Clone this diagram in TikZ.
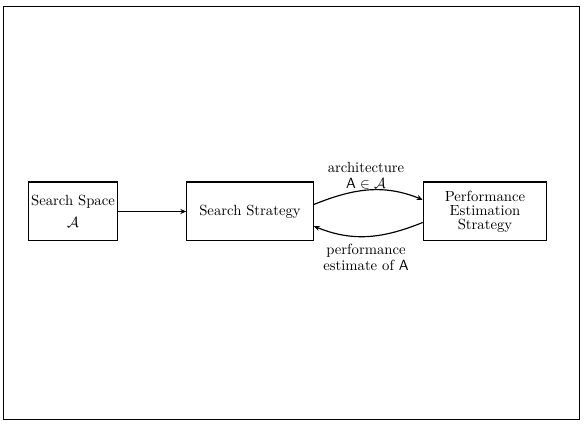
\documentclass[tikz,border=0pt]{standalone}
\usepackage{amsmath,amssymb}
\usetikzlibrary{arrows.meta}

\tikzset{
  stage/.style={draw, line width=0.8pt, minimum height=40pt, align=center, inner sep=2pt},
  flow/.style={line width=0.8pt, -{Stealth[length=4pt,width=3.5pt]}},
  note/.style={align=center, inner sep=0pt}
}

\begin{document}
\begin{tikzpicture}[x=0.68pt,y=0.68pt]

  \useasboundingbox (0,0) rectangle (584,427);
    \draw[line width=0.6pt] (3,8) rectangle (579,421);

  \node[stage, minimum width=61pt] (space) at (73,215.5) {Search Space\\[3pt] $\mathcal{A}$};
  \node[stage, minimum width=86pt] (strategy) at (250,215.5) {Search Strategy};
  \node[stage, minimum width=84pt] (estim) at (485,215.5) {Performance\\[-2.5pt] Estimation\\[-2.5pt] Strategy};

    \draw[flow] (space) -- (strategy);
    \draw[flow] (strategy.east) ++(0,7) to[out=22,in=158] ([yshift=8]estim.west);
    \draw[flow] (estim.west) ++(0,-11) to[out=-158,in=-22] ([yshift=-10]strategy.east);

  \node[note] (archlbl) at (366,251) {architecture\\[-1pt] $\mathsf{A}\in\mathcal{A}$};
  \node[note] (perflbl) at (366,170) {performance\\[-1pt] estimate of $\mathsf{A}$};

\end{tikzpicture}
\end{document}
